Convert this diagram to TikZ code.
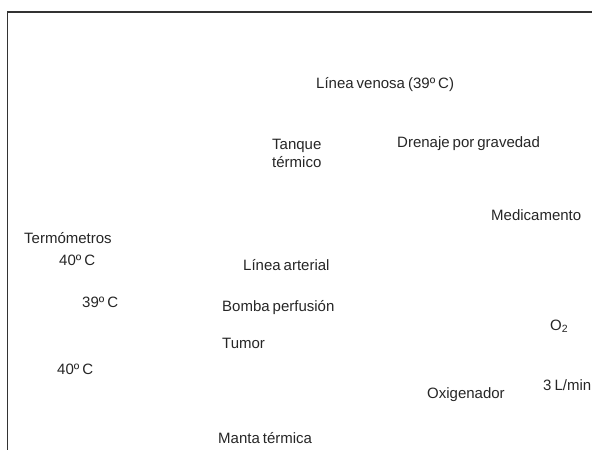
\documentclass[tikz,border=0pt]{standalone}
\usepackage{fontspec}
\setmainfont{Liberation Sans}
\newcommand{\tightwords}{\spaceskip=0.2em plus 0.05em\relax}
\begin{document}
\begin{tikzpicture}[x=1pt,y=-1pt,
  lbl/.style={anchor=base west,inner sep=0pt,font=\fontsize{15}{18}\selectfont,execute at begin node=\tightwords,text=black!85},
  frame/.style={draw=black!80,line width=1.1pt}]
\useasboundingbox (0,0) rectangle (592,450);
\coordinate (ftl) at (7.5,12);
\coordinate (ftr) at (592,12);
\coordinate (fbl) at (7.5,450);
\draw[frame] (ftr) -- (ftl) -- (fbl);
\node[lbl] (venosa) at (316,88) {Línea venosa (39º C)};
\node[lbl,align=left,anchor=north west] (tanque) at (272,139) {Tanque\\ térmico};
\node[lbl] (drenaje) at (397,147) {Drenaje por gravedad};
\node[lbl] (medic) at (491,220) {Medicamento};
\node[lbl] (termo) at (24,243) {Termómetros};
\node[lbl] (t1) at (59,265) {40º C};
\node[lbl] (arterial) at (243,270) {Línea arterial};
\node[lbl] (t2) at (82,307) {39º C};
\node[lbl] (bomba) at (222,311) {Bomba perfusión};
\node[lbl] (o2) at (550,330) {O\textsubscript{2}};
\node[lbl] (tumor) at (222,348) {Tumor};
\node[lbl] (t3) at (57,374) {40º C};
\node[lbl] (flujo) at (543,390) {3 L/min};
\node[lbl] (oxi) at (427,398) {Oxigenador};
\node[lbl] (manta) at (218,443) {Manta térmica};
\end{tikzpicture}
\end{document}
